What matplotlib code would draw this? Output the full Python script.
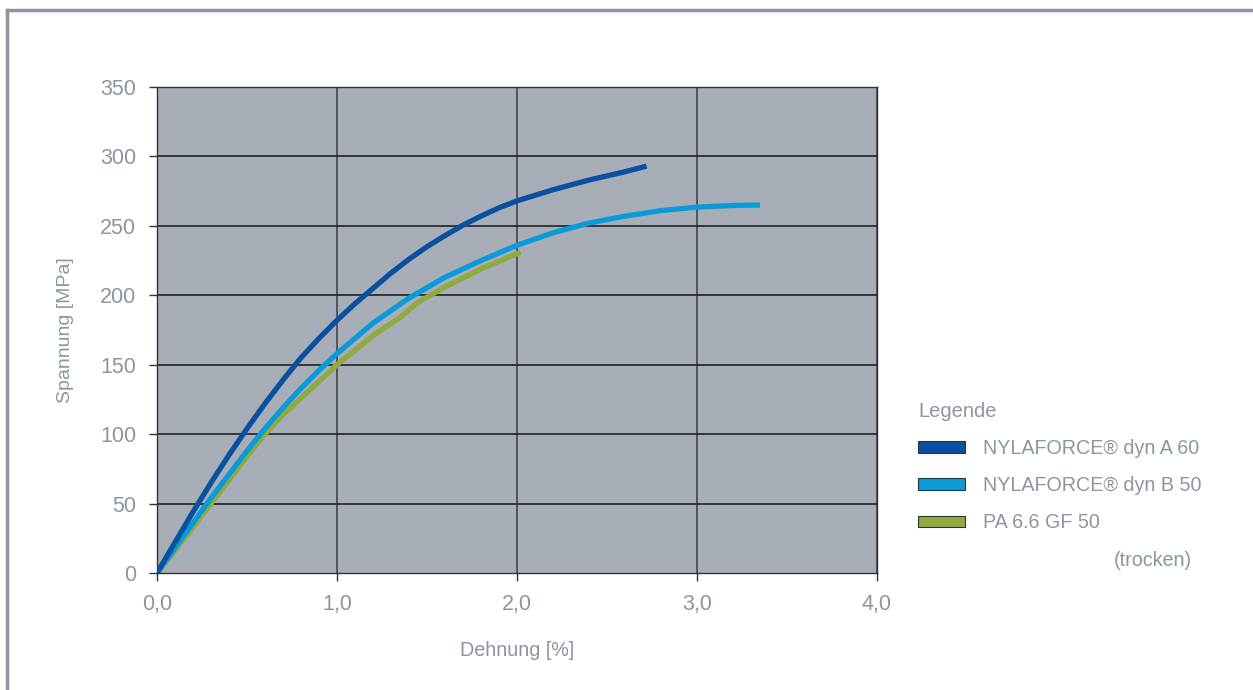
import matplotlib
matplotlib.use('Agg')
import matplotlib.pyplot as plt
from matplotlib.patches import Patch

# strain [%] / stress [MPa]
strain_a60 = [0.0, 0.05, 0.1, 0.2, 0.3, 0.4, 0.5, 0.6, 0.7, 0.8, 0.9, 1.0, 1.1, 1.2, 1.3, 1.4, 1.5, 1.6, 1.7, 1.8, 1.9, 2.0, 2.2, 2.4, 2.6, 2.72]
stress_a60 = [0, 11, 22, 44, 65, 85, 104, 122, 139, 155, 169, 182, 194, 205, 216, 226, 235, 243, 250.5, 257, 263, 268, 276, 283, 289, 293]

strain_b50 = [0.0, 0.1, 0.2, 0.3, 0.4, 0.5, 0.6, 0.7, 0.8, 0.9, 1.0, 1.2, 1.4, 1.6, 1.8, 2.0, 2.2, 2.4, 2.6, 2.8, 3.0, 3.2, 3.35]
stress_b50 = [0, 18, 36, 54, 71, 88, 104, 119, 133, 146, 158, 180, 198, 213, 225, 236, 245, 252, 257, 261, 263.5, 264.7, 265]

strain_pa = [0.0, 0.1, 0.2, 0.3, 0.4, 0.5, 0.6, 0.7, 0.8, 0.9, 1.0, 1.2, 1.35, 1.45, 1.6, 1.8, 2.02]
stress_pa = [0, 16, 33, 50, 67, 84, 100, 114, 126, 138, 150, 171, 184, 195, 206, 219, 231]

labels = ['NYLAFORCE® dyn A 60', 'NYLAFORCE® dyn B 50', 'PA 6.6 GF 50']
colors = ['#0A50A1', '#0A9ADA', '#8FAA3E']

x_ticks = [0, 1, 2, 3, 4]
x_ticklabels = ['0,0', '1,0', '2,0', '3,0', '4,0']
y_ticks = [0, 50, 100, 150, 200, 250, 300, 350]

plt.rcParams['font.family'] = ['Liberation Sans', 'DejaVu Sans']
txt = '#8A96A3'

fig = plt.figure(figsize=(12.53, 6.9), dpi=100)
ax = fig.add_axes([157 / 1253, 1 - 573 / 690, 720 / 1253, 486 / 690])
ax.set_facecolor('#A8AEB7')

ax.plot(strain_pa, stress_pa, color=colors[2], lw=3.8, solid_capstyle='butt', zorder=3)
ax.plot(strain_b50, stress_b50, color=colors[1], lw=3.8, solid_capstyle='butt', zorder=4)
ax.plot(strain_a60, stress_a60, color=colors[0], lw=3.8, solid_capstyle='butt', zorder=5)

ax.set_xlim(0, 4)
ax.set_ylim(0, 350)
ax.set_xticks(x_ticks)
ax.set_xticklabels(x_ticklabels)
ax.set_yticks(y_ticks)

for y in y_ticks[1:]:
    ax.axhline(y, color='#222222', lw=1.2, zorder=2)
for x in x_ticks[1:]:
    ax.axvline(x, color='#4A4D52', lw=1.3, zorder=1)
for s in ax.spines.values():
    s.set_color('#333333')
    s.set_linewidth(1.0)

ax.tick_params(direction='out', length=6, width=1, color='#333333',
               labelcolor=txt, labelsize=15.5, pad=9)
ax.set_xlabel('Dehnung [%]', color=txt, fontsize=14.2, labelpad=19)
ax.set_ylabel('Spannung [MPa]', color=txt, fontsize=14, labelpad=19)

handles = [Patch(facecolor=c, edgecolor='#333333', lw=0.8) for c in colors]
leg = fig.legend(handles, labels, title='Legende', loc='upper left',
                 bbox_to_anchor=(918 / 1253, 1 - 402 / 690), frameon=False,
                 fontsize=14.2, title_fontsize=14.5, handlelength=2.4, handleheight=0.55,
                 handletextpad=0.9, labelspacing=0.92, borderpad=0, borderaxespad=0,
                 alignment='left')
leg.get_title().set_color(txt)
for t in leg.get_texts():
    t.set_color(txt)

fig.text(1192 / 1253, 1 - 560 / 690, '(trocken)', color=txt, fontsize=14.2,
         ha='right', va='center')

# outer frame (top and left edge only)
fig.add_artist(plt.Line2D([7 / 1253, 1], [1 - 10 / 690, 1 - 10 / 690], color='#8C96A2', lw=2.5, transform=fig.transFigure))
fig.add_artist(plt.Line2D([7 / 1253, 7 / 1253], [0, 1 - 10 / 690], color='#8C96A2', lw=2.5, transform=fig.transFigure))

fig.savefig('out.png', dpi=100)
